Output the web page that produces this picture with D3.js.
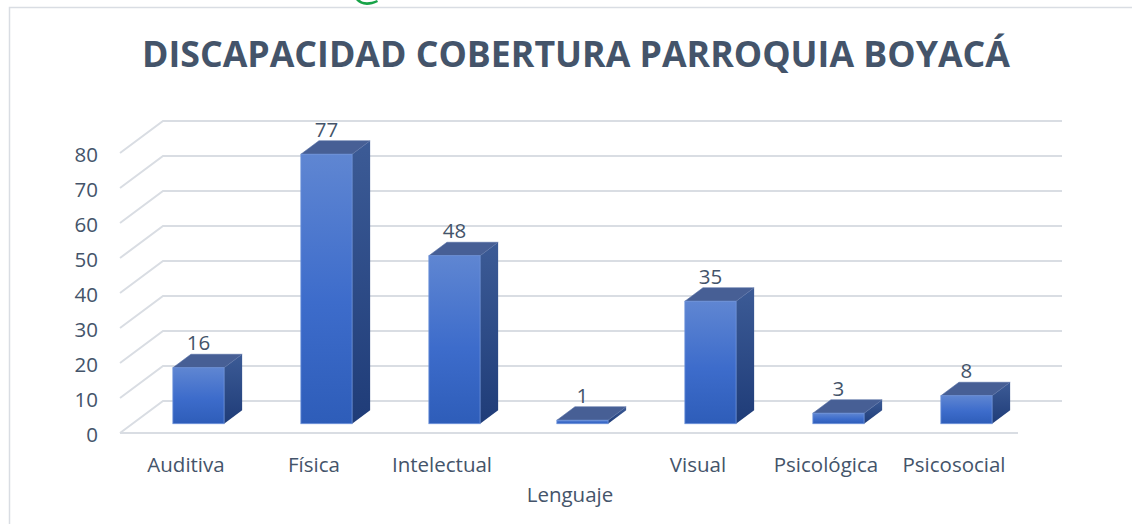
<!DOCTYPE html>
<html>
<head>
<meta charset="utf-8">
<script src="https://cdn.jsdelivr.net/npm/d3@7"></script>
<style>
  html, body { margin: 0; padding: 0; background: #ffffff; }
  svg { display: block; }
</style>
</head>
<body>
<svg id="chart" width="1132" height="524"></svg>
<script>
// Disability coverage by type, Boyacá parish
const categories = ["Auditiva", "Física", "Intelectual", "Lenguaje", "Visual", "Psicológica", "Psicosocial"];
const values = [16, 77, 48, 1, 35, 3, 8];
const yTicks = [0, 10, 20, 30, 40, 50, 60, 70, 80];
const title = "DISCAPACIDAD COBERTURA PARROQUIA BOYACÁ";

const svg = d3.select("#chart");
const textColor = "#44546a";
const gridColor = "#d9dde3";
const font = "'Open Sans', 'Noto Sans', sans-serif";
const labelSize = 20.5;

// 3D frame: floor front edge and depth vector of the oblique projection
const floorLeft = 122, floorRight = 1018;
const depth = { dx: 43, dy: -32 };
const barDepth = [0.29, 0.71]; // bars occupy the middle of the floor depth

const y = d3.scaleLinear().domain([0, 80]).range([433, 153]);
const x = d3.scaleBand().domain(categories).range([floorLeft, floorRight])
  .paddingInner(0.6).paddingOuter(0.3);

const proj = (px, v, d) => [px + d * depth.dx, y(v) + d * depth.dy];

// outer chart frame
svg.append("rect")
  .attr("x", 9.5).attr("y", 7.5).attr("width", 1140).attr("height", 600)
  .attr("fill", "none").attr("stroke", gridColor).attr("stroke-width", 1.5);

// small green emblem clipped at the top edge
svg.append("path")
  .attr("d", "M356,0 C360,5 368,7 378,2 L377,0 C370,3 363,3 360,0 Z")
  .attr("fill", "#17a348");

// title
svg.append("text")
  .attr("x", 576).attr("y", 67)
  .attr("text-anchor", "middle")
  .attr("font-family", font).attr("font-weight", 700).attr("font-size", 35)
  .attr("fill", textColor)
  .attr("textLength", 868).attr("lengthAdjust", "spacingAndGlyphs")
  .text(title);

// gradients for bar faces
const defs = svg.append("defs");
const frontGrad = defs.append("linearGradient").attr("id", "gFront")
  .attr("x1", 0).attr("y1", 0).attr("x2", 0).attr("y2", 1);
frontGrad.append("stop").attr("offset", "0%").attr("stop-color", "#5f86d2");
frontGrad.append("stop").attr("offset", "55%").attr("stop-color", "#3d6ccb");
frontGrad.append("stop").attr("offset", "100%").attr("stop-color", "#2e5db9");
const sideGrad = defs.append("linearGradient").attr("id", "gSide")
  .attr("x1", 0).attr("y1", 0).attr("x2", 0).attr("y2", 1);
sideGrad.append("stop").attr("offset", "0%").attr("stop-color", "#3c5b96");
sideGrad.append("stop").attr("offset", "100%").attr("stop-color", "#1f3c78");

// gridlines: back wall + left wall diagonals
const grid = svg.append("g").attr("stroke", gridColor).attr("stroke-width", 2).attr("fill", "none");
yTicks.forEach(t => {
  const f = proj(120, t, 0), b = proj(120, t, 1);
  const bRight = proj(floorRight + 1, t, 1);
  grid.append("path").attr("d", `M${f[0]},${f[1]}L${b[0]},${b[1]}L${bRight[0]},${bRight[1]}`);
});
// floor front edge
const ff0 = proj(120, 0, 0), ff1 = proj(floorRight, 0, 0);
grid.append("line").attr("x1", ff0[0]).attr("y1", ff0[1]).attr("x2", ff1[0]).attr("y2", ff1[1]);

// y tick labels
svg.append("g").selectAll("text").data(yTicks).join("text")
  .attr("x", 98).attr("y", d => y(d) + 9)
  .attr("text-anchor", "end")
  .attr("font-family", font).attr("font-size", labelSize).attr("fill", textColor)
  .text(d => d);

// bars
const bars = svg.append("g").selectAll("g").data(categories.map((c, i) => ({ c, v: values[i] })))
  .join("g");

const pts = a => a.map(p => p.join(",")).join(" ");
bars.each(function (d) {
  const g = d3.select(this);
  const x0 = x(d.c), x1 = x(d.c) + x.bandwidth();
  const [d0, d1] = barDepth;
  const fBL = proj(x0, 0, d0), fBR = proj(x1, 0, d0);
  const fTL = proj(x0, d.v, d0), fTR = proj(x1, d.v, d0);
  const bTL = proj(x0, d.v, d1), bTR = proj(x1, d.v, d1), bBR = proj(x1, 0, d1);
  // right side face
  g.append("polygon").attr("points", pts([fBR, fTR, bTR, bBR])).attr("fill", "url(#gSide)");
  // top face
  g.append("polygon").attr("points", pts([fTL, bTL, bTR, fTR])).attr("fill", "#475f95")
    .attr("stroke", "#566fa5").attr("stroke-width", 0.6);
  // front face
  g.append("rect")
    .attr("x", fTL[0]).attr("y", fTL[1])
    .attr("width", x1 - x0).attr("height", Math.max(fBL[1] - fTL[1], 0.5))
    .attr("fill", "url(#gFront)")
    .attr("stroke", "#6d92da").attr("stroke-width", 0.8);
  // value label
  g.append("text")
    .attr("x", (fTL[0] + fTR[0]) / 2).attr("y", bTL[1] - 4)
    .attr("text-anchor", "middle")
    .attr("font-family", font).attr("font-size", labelSize).attr("fill", textColor)
    .text(d.v);
});

// category labels, staggered where they would collide
svg.append("g").selectAll("text").data(categories).join("text")
  .attr("x", d => x(d) + x.bandwidth() / 2)
  .attr("y", (d, i) => i === 3 ? 502 : 472)
  .attr("text-anchor", "middle")
  .attr("font-family", font).attr("font-size", labelSize).attr("fill", textColor)
  .text(d => d);
</script>
</body>
</html>
